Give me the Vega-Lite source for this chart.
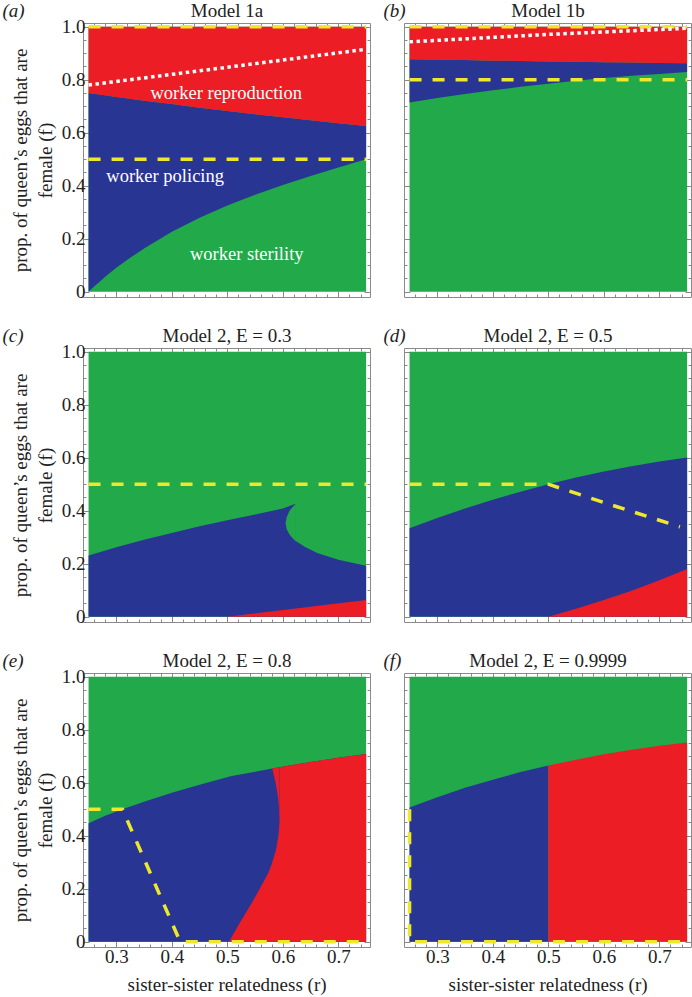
{
  "$schema": "https://vega.github.io/schema/vega-lite/v6.json",
  "padding": {"left": 1, "top": 0, "right": 2, "bottom": 0},
  "background": "white",
  "datasets": {
    "reg": [
      {"p":"a","k":"g","r":0.25,"f":0,"f2":1},{"p":"a","k":"g","r":0.75,"f":0,"f2":1},
      {"p":"a","k":"b","r":0.25,"f":0,"f2":0.75},{"p":"a","k":"b","r":0.26,"f":0.02,"f2":0.747},{"p":"a","k":"b","r":0.27,"f":0.038,"f2":0.744},{"p":"a","k":"b","r":0.28,"f":0.056,"f2":0.741},{"p":"a","k":"b","r":0.30,"f":0.09,"f2":0.735},{"p":"a","k":"b","r":0.325,"f":0.128,"f2":0.728},{"p":"a","k":"b","r":0.35,"f":0.163,"f2":0.721},{"p":"a","k":"b","r":0.40,"f":0.226,"f2":0.708},{"p":"a","k":"b","r":0.45,"f":0.279,"f2":0.694},{"p":"a","k":"b","r":0.50,"f":0.325,"f2":0.682},{"p":"a","k":"b","r":0.55,"f":0.366,"f2":0.67},{"p":"a","k":"b","r":0.60,"f":0.403,"f2":0.658},{"p":"a","k":"b","r":0.65,"f":0.437,"f2":0.647},{"p":"a","k":"b","r":0.70,"f":0.469,"f2":0.636},{"p":"a","k":"b","r":0.75,"f":0.5,"f2":0.625},
      {"p":"a","k":"r","r":0.25,"f":0.75,"f2":1},{"p":"a","k":"r","r":0.30,"f":0.735,"f2":1},{"p":"a","k":"r","r":0.35,"f":0.721,"f2":1},{"p":"a","k":"r","r":0.40,"f":0.708,"f2":1},{"p":"a","k":"r","r":0.45,"f":0.694,"f2":1},{"p":"a","k":"r","r":0.50,"f":0.682,"f2":1},{"p":"a","k":"r","r":0.55,"f":0.67,"f2":1},{"p":"a","k":"r","r":0.60,"f":0.658,"f2":1},{"p":"a","k":"r","r":0.65,"f":0.647,"f2":1},{"p":"a","k":"r","r":0.70,"f":0.636,"f2":1},{"p":"a","k":"r","r":0.75,"f":0.625,"f2":1},
      {"p":"b","k":"g","r":0.25,"f":0,"f2":1},{"p":"b","k":"g","r":0.75,"f":0,"f2":1},
      {"p":"b","k":"b","r":0.25,"f":0.714,"f2":0.877},{"p":"b","k":"b","r":0.30,"f":0.731,"f2":0.875},{"p":"b","k":"b","r":0.35,"f":0.746,"f2":0.874},{"p":"b","k":"b","r":0.40,"f":0.76,"f2":0.872},{"p":"b","k":"b","r":0.45,"f":0.773,"f2":0.871},{"p":"b","k":"b","r":0.50,"f":0.785,"f2":0.869},{"p":"b","k":"b","r":0.55,"f":0.796,"f2":0.868},{"p":"b","k":"b","r":0.60,"f":0.806,"f2":0.866},{"p":"b","k":"b","r":0.65,"f":0.815,"f2":0.865},{"p":"b","k":"b","r":0.70,"f":0.822,"f2":0.863},{"p":"b","k":"b","r":0.75,"f":0.829,"f2":0.862},
      {"p":"b","k":"r","r":0.25,"f":0.877,"f2":1},{"p":"b","k":"r","r":0.30,"f":0.875,"f2":1},{"p":"b","k":"r","r":0.35,"f":0.874,"f2":1},{"p":"b","k":"r","r":0.40,"f":0.872,"f2":1},{"p":"b","k":"r","r":0.45,"f":0.871,"f2":1},{"p":"b","k":"r","r":0.50,"f":0.869,"f2":1},{"p":"b","k":"r","r":0.55,"f":0.868,"f2":1},{"p":"b","k":"r","r":0.60,"f":0.866,"f2":1},{"p":"b","k":"r","r":0.65,"f":0.865,"f2":1},{"p":"b","k":"r","r":0.70,"f":0.863,"f2":1},{"p":"b","k":"r","r":0.75,"f":0.862,"f2":1},
      {"p":"c","k":"g","r":0.25,"f":0,"f2":1},{"p":"c","k":"g","r":0.75,"f":0,"f2":1},
      {"p":"c","k":"b","r":0.25,"f":0,"f2":0.231},{"p":"c","k":"b","r":0.30,"f":0,"f2":0.262},{"p":"c","k":"b","r":0.35,"f":0,"f2":0.29},{"p":"c","k":"b","r":0.40,"f":0,"f2":0.316},{"p":"c","k":"b","r":0.45,"f":0,"f2":0.341},{"p":"c","k":"b","r":0.50,"f":0,"f2":0.364},{"p":"c","k":"b","r":0.55,"f":0,"f2":0.386},{"p":"c","k":"b","r":0.60,"f":0,"f2":0.408},{"p":"c","k":"b","r":0.623,"f":0,"f2":0.426},{"p":"c","k":"b","r":0.6232,"f":0,"f2":0.286},{"p":"c","k":"b","r":0.64,"f":0,"f2":0.263},{"p":"c","k":"b","r":0.662,"f":0,"f2":0.24},{"p":"c","k":"b","r":0.70,"f":0,"f2":0.215},{"p":"c","k":"b","r":0.75,"f":0,"f2":0.192},
      {"p":"c","k":"g2","r":0.605,"f":0.353,"f2":0.353},{"p":"c","k":"g2","r":0.607,"f":0.33,"f2":0.375},{"p":"c","k":"g2","r":0.612,"f":0.31,"f2":0.40},{"p":"c","k":"g2","r":0.618,"f":0.295,"f2":0.415},{"p":"c","k":"g2","r":0.6236,"f":0.284,"f2":0.427},
      {"p":"c","k":"r","r":0.5,"f":0,"f2":0},{"p":"c","k":"r","r":0.75,"f":0,"f2":0.063},
      {"p":"d","k":"g","r":0.25,"f":0,"f2":1},{"p":"d","k":"g","r":0.75,"f":0,"f2":1},
      {"p":"d","k":"b","r":0.25,"f":0,"f2":0.334},{"p":"d","k":"b","r":0.30,"f":0,"f2":0.372},{"p":"d","k":"b","r":0.35,"f":0,"f2":0.408},{"p":"d","k":"b","r":0.40,"f":0,"f2":0.441},{"p":"d","k":"b","r":0.45,"f":0,"f2":0.472},{"p":"d","k":"b","r":0.50,"f":0,"f2":0.5},{"p":"d","k":"b","r":0.55,"f":0,"f2":0.525},{"p":"d","k":"b","r":0.60,"f":0,"f2":0.548},{"p":"d","k":"b","r":0.65,"f":0,"f2":0.568},{"p":"d","k":"b","r":0.70,"f":0,"f2":0.586},{"p":"d","k":"b","r":0.75,"f":0,"f2":0.601},
      {"p":"d","k":"r","r":0.5,"f":0,"f2":0},{"p":"d","k":"r","r":0.55,"f":0,"f2":0.03},{"p":"d","k":"r","r":0.6,"f":0,"f2":0.063},{"p":"d","k":"r","r":0.65,"f":0,"f2":0.098},{"p":"d","k":"r","r":0.7,"f":0,"f2":0.138},{"p":"d","k":"r","r":0.75,"f":0,"f2":0.18},
      {"p":"e","k":"g","r":0.25,"f":0,"f2":1},{"p":"e","k":"g","r":0.75,"f":0,"f2":1},
      {"p":"e","k":"b","r":0.25,"f":0,"f2":0.447},{"p":"e","k":"b","r":0.28,"f":0,"f2":0.475},{"p":"e","k":"b","r":0.311,"f":0,"f2":0.5},{"p":"e","k":"b","r":0.35,"f":0,"f2":0.528},{"p":"e","k":"b","r":0.40,"f":0,"f2":0.562},{"p":"e","k":"b","r":0.45,"f":0,"f2":0.592},{"p":"e","k":"b","r":0.506,"f":0,"f2":0.624},{"p":"e","k":"b","r":0.55,"f":0,"f2":0.641},{"p":"e","k":"b","r":0.581,"f":0,"f2":0.654},{"p":"e","k":"b","r":0.62,"f":0,"f2":0.668},{"p":"e","k":"b","r":0.65,"f":0,"f2":0.678},{"p":"e","k":"b","r":0.70,"f":0,"f2":0.694},{"p":"e","k":"b","r":0.75,"f":0,"f2":0.708},
      {"p":"e","k":"r","r":0.503,"f":0,"f2":0},{"p":"e","k":"r","r":0.522,"f":0,"f2":0.07},{"p":"e","k":"r","r":0.548,"f":0,"f2":0.16},{"p":"e","k":"r","r":0.574,"f":0,"f2":0.26},{"p":"e","k":"r","r":0.581,"f":0,"f2":0.30},{"p":"e","k":"r","r":0.588,"f":0,"f2":0.35},{"p":"e","k":"r","r":0.592,"f":0,"f2":0.40},{"p":"e","k":"r","r":0.594,"f":0,"f2":0.45},{"p":"e","k":"r","r":0.5942,"f":0,"f2":0.658},{"p":"e","k":"r","r":0.62,"f":0,"f2":0.668},{"p":"e","k":"r","r":0.65,"f":0,"f2":0.678},{"p":"e","k":"r","r":0.70,"f":0,"f2":0.694},{"p":"e","k":"r","r":0.75,"f":0,"f2":0.708},
      {"p":"e","k":"r2","r":0.581,"f":0.654,"f2":0.654},{"p":"e","k":"r2","r":0.587,"f":0.6,"f2":0.656},{"p":"e","k":"r2","r":0.591,"f":0.55,"f2":0.657},{"p":"e","k":"r2","r":0.5932,"f":0.5,"f2":0.658},{"p":"e","k":"r2","r":0.594,"f":0.45,"f2":0.658},
      {"p":"f","k":"g","r":0.25,"f":0,"f2":1},{"p":"f","k":"g","r":0.75,"f":0,"f2":1},
      {"p":"f","k":"b","r":0.25,"f":0,"f2":0.506},{"p":"f","k":"b","r":0.30,"f":0,"f2":0.545},{"p":"f","k":"b","r":0.35,"f":0,"f2":0.581},{"p":"f","k":"b","r":0.40,"f":0,"f2":0.611},{"p":"f","k":"b","r":0.45,"f":0,"f2":0.64},{"p":"f","k":"b","r":0.50,"f":0,"f2":0.665},
      {"p":"f","k":"r","r":0.50,"f":0,"f2":0.665},{"p":"f","k":"r","r":0.55,"f":0,"f2":0.687},{"p":"f","k":"r","r":0.60,"f":0,"f2":0.707},{"p":"f","k":"r","r":0.65,"f":0,"f2":0.7245},{"p":"f","k":"r","r":0.70,"f":0,"f2":0.7395},{"p":"f","k":"r","r":0.75,"f":0,"f2":0.752}
    ],
    "lin": [
      {"p":"a","k":"a1","s":"y","i":0,"r":0.25,"f":0.5},{"p":"a","k":"a1","s":"y","i":1,"r":0.75,"f":0.5},
      {"p":"a","k":"a2","s":"y","i":0,"r":0.25,"f":1},{"p":"a","k":"a2","s":"y","i":1,"r":0.75,"f":1},
      {"p":"a","k":"a3","s":"w","i":0,"r":0.25,"f":0.78},{"p":"a","k":"a3","s":"w","i":1,"r":0.5,"f":0.847},{"p":"a","k":"a3","s":"w","i":2,"r":0.75,"f":0.915},
      {"p":"b","k":"b1","s":"y","i":0,"r":0.25,"f":0.8},{"p":"b","k":"b1","s":"y","i":1,"r":0.75,"f":0.8},
      {"p":"b","k":"b2","s":"y","i":0,"r":0.25,"f":1},{"p":"b","k":"b2","s":"y","i":1,"r":0.75,"f":1},
      {"p":"b","k":"b3","s":"w","i":0,"r":0.25,"f":0.943},{"p":"b","k":"b3","s":"w","i":1,"r":0.5,"f":0.971},{"p":"b","k":"b3","s":"w","i":2,"r":0.75,"f":0.994},
      {"p":"c","k":"c1","s":"y","i":0,"r":0.25,"f":0.5},{"p":"c","k":"c1","s":"y","i":1,"r":0.75,"f":0.5},
      {"p":"d","k":"d1","s":"y","i":0,"r":0.25,"f":0.5},{"p":"d","k":"d1","s":"y","i":1,"r":0.5,"f":0.5},{"p":"d","k":"d1","s":"y","i":2,"r":0.61,"f":0.424},{"p":"d","k":"d1","s":"y","i":3,"r":0.737,"f":0.339},
      {"p":"e","k":"e1","s":"y","i":0,"r":0.25,"f":0.5},{"p":"e","k":"e1","s":"y","i":1,"r":0.311,"f":0.5},{"p":"e","k":"e1","s":"y","i":2,"r":0.415,"f":0},{"p":"e","k":"e1","s":"y","i":3,"r":0.75,"f":0},
      {"p":"f","k":"f1","s":"y","i":0,"r":0.25,"f":0.5},{"p":"f","k":"f1","s":"y","i":1,"r":0.25,"f":0},{"p":"f","k":"f1","s":"y","i":2,"r":0.75,"f":0}
    ],
    "lab": [
      {"p":"a","t":"worker reproduction","r":0.498,"f":0.729},
      {"p":"a","t":"worker policing","r":0.388,"f":0.414},
      {"p":"a","t":"worker sterility","r":0.535,"f":0.12}
    ]
  },
  "config": {
    "view": {"stroke": "#8a8a8a", "strokeWidth": 1},
    "font": "Liberation Serif",
    "axis": {"domain": false, "grid": false, "labelFont": "Liberation Serif", "labelFontSize": 19, "labelColor": "#222", "titleFont": "Liberation Serif", "titleFontSize": 19, "titleFontWeight": "normal", "titleColor": "#222", "tickColor": "#888", "tickWidth": 1, "labelOverlap": false, "labelFlush": false, "minExtent": 0},
    "title": {"font": "Liberation Serif", "fontSize": 19, "fontWeight": "normal", "color": "#222"}
  },
  "bounds": "flush",
  "columns": 2,
  "spacing": {"row": 51, "column": 34},
  "concat": [
      {
        "width": 287, "height": 274,
        "resolve": {"axis": {"x": "independent", "y": "independent"}},
        "encoding": {"x": {"field": "r", "type": "quantitative", "scale": {"domain": [0.24, 0.757], "nice": false, "zero": false}, "axis": null}, "y": {"field": "f", "type": "quantitative", "scale": {"domain": [-0.02, 1.014], "nice": false, "zero": false}, "axis": null}},
        "layer": [
          {"data": {"name": "reg"}, "transform": [{"filter": "datum.p=='a' && datum.k=='g'"}], "mark": {"type": "area", "color": "#21A94A"},
           "encoding": {"x": {"field": "r", "type": "quantitative", "scale": {"domain": [0.24, 0.757], "nice": false, "zero": false}, "axis": {"orient": "bottom", "values": [0.3,0.4,0.5,0.6,0.7], "tickSize": -6, "labels": false, "title": null, "maxExtent": 0}},
                        "y": {"field": "f", "type": "quantitative", "scale": {"domain": [-0.02, 1.014], "nice": false, "zero": false}, "axis": {"orient": "left", "values": [0,0.2,0.4,0.6,0.8,1], "tickSize": -6, "labelExpr": "datum.value==0 ? '0' : format(datum.value,'.1f')", "labelPadding": 4, "title": ["prop. of queen’s eggs that are", "female (f)"], "titlePadding": 6, "titleLineHeight": 25}},
                        "y2": {"field": "f2"}}},
          {"data": {"name": "reg"}, "transform": [{"filter": "datum.p=='a' && datum.k=='b'"}], "mark": {"type": "area", "color": "#293593"},
           "encoding": {"x": {"field": "r", "type": "quantitative", "scale": {"domain": [0.24, 0.757], "nice": false, "zero": false}, "axis": {"orient": "top", "values": [0.3,0.4,0.5,0.6,0.7], "tickSize": -6, "labels": false, "maxExtent": 0, "title": "Model 1a", "titleX": 143.5, "titleY": -7, "titleAlign": "center", "titleBaseline": "alphabetic", "titleAngle": 0}},
                        "y": {"field": "f", "type": "quantitative", "scale": {"domain": [-0.02, 1.014], "nice": false, "zero": false}, "axis": {"orient": "right", "values": [0,0.2,0.4,0.6,0.8,1], "tickSize": -6, "labels": false, "title": null, "maxExtent": 0}},
                        "y2": {"field": "f2"}}},
          {"data": {"name": "reg"}, "transform": [{"filter": "datum.p=='a' && substring(datum.k,0,1)=='r'"}], "mark": {"type": "area", "color": "#EC1D25"},
           "encoding": {"x": {"field": "r", "type": "quantitative", "scale": {"domain": [0.24, 0.757], "nice": false, "zero": false}, "axis": {"orient": "bottom", "values": [0.26,0.28,0.32,0.34,0.36,0.38,0.42,0.44,0.46,0.48,0.52,0.54,0.56,0.58,0.62,0.64,0.66,0.68,0.72,0.74], "tickSize": -3, "labels": false, "title": null, "maxExtent": 0}},
                        "y": {"field": "f", "type": "quantitative", "scale": {"domain": [-0.02, 1.014], "nice": false, "zero": false}, "axis": {"orient": "left", "values": [0.05,0.1,0.15,0.25,0.3,0.35,0.45,0.5,0.55,0.65,0.7,0.75,0.85,0.9,0.95], "tickSize": -3, "labels": false, "title": null, "maxExtent": 0}},
                        "y2": {"field": "f2"}, "detail": {"field": "k"}}},
          {"data": {"name": "lin"}, "transform": [{"filter": "datum.p=='a' && datum.s=='y'"}], "mark": {"type": "line", "color": "#EEE82C", "strokeWidth": 3.5, "strokeDash": [12, 11]},
           "encoding": {"x": {"field": "r", "type": "quantitative", "scale": {"domain": [0.24, 0.757], "nice": false, "zero": false}, "axis": {"orient": "top", "values": [0.26,0.28,0.32,0.34,0.36,0.38,0.42,0.44,0.46,0.48,0.52,0.54,0.56,0.58,0.62,0.64,0.66,0.68,0.72,0.74], "tickSize": -3, "labels": false, "maxExtent": 0, "title": "(a)", "titleX": -81, "titleY": -7, "titleAlign": "left", "titleBaseline": "alphabetic", "titleAngle": 0, "titleFontStyle": "italic"}},
                        "y": {"field": "f", "type": "quantitative", "scale": {"domain": [-0.02, 1.014], "nice": false, "zero": false}, "axis": {"orient": "right", "values": [0.05,0.1,0.15,0.25,0.3,0.35,0.45,0.5,0.55,0.65,0.7,0.75,0.85,0.9,0.95], "tickSize": -3, "labels": false, "title": null, "maxExtent": 0}},
                        "detail": {"field": "k"}, "order": {"field": "i"}}},
          {"data": {"name": "lin"}, "transform": [{"filter": "datum.p=='a' && datum.s=='w'"}], "mark": {"type": "line", "color": "#ffffff", "strokeWidth": 3.5, "strokeDash": [3.5, 3.5]}, "encoding": {"detail": {"field": "k"}, "order": {"field": "i"}}},
          {"data": {"name": "lab"}, "transform": [{"filter": "datum.p=='a'"}], "mark": {"type": "text", "color": "#ffffff", "font": "Liberation Serif", "fontSize": 18.5, "align": "center", "baseline": "alphabetic"}, "encoding": {"text": {"field": "t"}}}
        ]},
      {
        "width": 287, "height": 274,
        "resolve": {"axis": {"x": "independent", "y": "independent"}},
        "encoding": {"x": {"field": "r", "type": "quantitative", "scale": {"domain": [0.24, 0.757], "nice": false, "zero": false}, "axis": null}, "y": {"field": "f", "type": "quantitative", "scale": {"domain": [-0.02, 1.014], "nice": false, "zero": false}, "axis": null}},
        "layer": [
          {"data": {"name": "reg"}, "transform": [{"filter": "datum.p=='b' && datum.k=='g'"}], "mark": {"type": "area", "color": "#21A94A"},
           "encoding": {"x": {"field": "r", "type": "quantitative", "scale": {"domain": [0.24, 0.757], "nice": false, "zero": false}, "axis": {"orient": "bottom", "values": [0.3,0.4,0.5,0.6,0.7], "tickSize": -6, "labels": false, "title": null, "maxExtent": 0}},
                        "y": {"field": "f", "type": "quantitative", "scale": {"domain": [-0.02, 1.014], "nice": false, "zero": false}, "axis": {"orient": "left", "values": [0,0.2,0.4,0.6,0.8,1], "tickSize": -6, "labels": false, "title": null, "maxExtent": 0}},
                        "y2": {"field": "f2"}}},
          {"data": {"name": "reg"}, "transform": [{"filter": "datum.p=='b' && datum.k=='b'"}], "mark": {"type": "area", "color": "#293593"},
           "encoding": {"x": {"field": "r", "type": "quantitative", "scale": {"domain": [0.24, 0.757], "nice": false, "zero": false}, "axis": {"orient": "top", "values": [0.3,0.4,0.5,0.6,0.7], "tickSize": -6, "labels": false, "maxExtent": 0, "title": "Model 1b", "titleX": 143.5, "titleY": -7, "titleAlign": "center", "titleBaseline": "alphabetic", "titleAngle": 0}},
                        "y": {"field": "f", "type": "quantitative", "scale": {"domain": [-0.02, 1.014], "nice": false, "zero": false}, "axis": {"orient": "right", "values": [0,0.2,0.4,0.6,0.8,1], "tickSize": -6, "labels": false, "title": null, "maxExtent": 0}},
                        "y2": {"field": "f2"}}},
          {"data": {"name": "reg"}, "transform": [{"filter": "datum.p=='b' && substring(datum.k,0,1)=='r'"}], "mark": {"type": "area", "color": "#EC1D25"},
           "encoding": {"x": {"field": "r", "type": "quantitative", "scale": {"domain": [0.24, 0.757], "nice": false, "zero": false}, "axis": {"orient": "bottom", "values": [0.26,0.28,0.32,0.34,0.36,0.38,0.42,0.44,0.46,0.48,0.52,0.54,0.56,0.58,0.62,0.64,0.66,0.68,0.72,0.74], "tickSize": -3, "labels": false, "title": null, "maxExtent": 0}},
                        "y": {"field": "f", "type": "quantitative", "scale": {"domain": [-0.02, 1.014], "nice": false, "zero": false}, "axis": {"orient": "left", "values": [0.05,0.1,0.15,0.25,0.3,0.35,0.45,0.5,0.55,0.65,0.7,0.75,0.85,0.9,0.95], "tickSize": -3, "labels": false, "title": null, "maxExtent": 0}},
                        "y2": {"field": "f2"}, "detail": {"field": "k"}}},
          {"data": {"name": "lin"}, "transform": [{"filter": "datum.p=='b' && datum.s=='y'"}], "mark": {"type": "line", "color": "#EEE82C", "strokeWidth": 3.5, "strokeDash": [12, 11]},
           "encoding": {"x": {"field": "r", "type": "quantitative", "scale": {"domain": [0.24, 0.757], "nice": false, "zero": false}, "axis": {"orient": "top", "values": [0.26,0.28,0.32,0.34,0.36,0.38,0.42,0.44,0.46,0.48,0.52,0.54,0.56,0.58,0.62,0.64,0.66,0.68,0.72,0.74], "tickSize": -3, "labels": false, "maxExtent": 0, "title": "(b)", "titleX": -21, "titleY": -7, "titleAlign": "left", "titleBaseline": "alphabetic", "titleAngle": 0, "titleFontStyle": "italic"}},
                        "y": {"field": "f", "type": "quantitative", "scale": {"domain": [-0.02, 1.014], "nice": false, "zero": false}, "axis": {"orient": "right", "values": [0.05,0.1,0.15,0.25,0.3,0.35,0.45,0.5,0.55,0.65,0.7,0.75,0.85,0.9,0.95], "tickSize": -3, "labels": false, "title": null, "maxExtent": 0}},
                        "detail": {"field": "k"}, "order": {"field": "i"}}},
          {"data": {"name": "lin"}, "transform": [{"filter": "datum.p=='b' && datum.s=='w'"}], "mark": {"type": "line", "color": "#ffffff", "strokeWidth": 3.5, "strokeDash": [3.5, 3.5]}, "encoding": {"detail": {"field": "k"}, "order": {"field": "i"}}}
        ]},
      {
        "width": 287, "height": 274,
        "resolve": {"axis": {"x": "independent", "y": "independent"}},
        "encoding": {"x": {"field": "r", "type": "quantitative", "scale": {"domain": [0.24, 0.757], "nice": false, "zero": false}, "axis": null}, "y": {"field": "f", "type": "quantitative", "scale": {"domain": [-0.02, 1.014], "nice": false, "zero": false}, "axis": null}},
        "layer": [
          {"data": {"name": "reg"}, "transform": [{"filter": "datum.p=='c' && datum.k=='g'"}], "mark": {"type": "area", "color": "#21A94A"},
           "encoding": {"x": {"field": "r", "type": "quantitative", "scale": {"domain": [0.24, 0.757], "nice": false, "zero": false}, "axis": {"orient": "bottom", "values": [0.3,0.4,0.5,0.6,0.7], "tickSize": -6, "labels": false, "title": null, "maxExtent": 0}},
                        "y": {"field": "f", "type": "quantitative", "scale": {"domain": [-0.02, 1.014], "nice": false, "zero": false}, "axis": {"orient": "left", "values": [0,0.2,0.4,0.6,0.8,1], "tickSize": -6, "labelExpr": "datum.value==0 ? '0' : format(datum.value,'.1f')", "labelPadding": 4, "title": ["prop. of queen’s eggs that are", "female (f)"], "titlePadding": 6, "titleLineHeight": 25}},
                        "y2": {"field": "f2"}}},
          {"data": {"name": "reg"}, "transform": [{"filter": "datum.p=='c' && datum.k=='b'"}], "mark": {"type": "area", "color": "#293593"},
           "encoding": {"x": {"field": "r", "type": "quantitative", "scale": {"domain": [0.24, 0.757], "nice": false, "zero": false}, "axis": {"orient": "top", "values": [0.3,0.4,0.5,0.6,0.7], "tickSize": -6, "labels": false, "maxExtent": 0, "title": "Model 2, E = 0.3", "titleX": 143.5, "titleY": -7, "titleAlign": "center", "titleBaseline": "alphabetic", "titleAngle": 0}},
                        "y": {"field": "f", "type": "quantitative", "scale": {"domain": [-0.02, 1.014], "nice": false, "zero": false}, "axis": {"orient": "right", "values": [0,0.2,0.4,0.6,0.8,1], "tickSize": -6, "labels": false, "title": null, "maxExtent": 0}},
                        "y2": {"field": "f2"}}},
          {"data": {"name": "reg"}, "transform": [{"filter": "datum.p=='c' && datum.k=='g2'"}], "mark": {"type": "area", "color": "#21A94A"}, "encoding": {"y2": {"field": "f2"}}},
          {"data": {"name": "reg"}, "transform": [{"filter": "datum.p=='c' && substring(datum.k,0,1)=='r'"}], "mark": {"type": "area", "color": "#EC1D25"},
           "encoding": {"x": {"field": "r", "type": "quantitative", "scale": {"domain": [0.24, 0.757], "nice": false, "zero": false}, "axis": {"orient": "bottom", "values": [0.26,0.28,0.32,0.34,0.36,0.38,0.42,0.44,0.46,0.48,0.52,0.54,0.56,0.58,0.62,0.64,0.66,0.68,0.72,0.74], "tickSize": -3, "labels": false, "title": null, "maxExtent": 0}},
                        "y": {"field": "f", "type": "quantitative", "scale": {"domain": [-0.02, 1.014], "nice": false, "zero": false}, "axis": {"orient": "left", "values": [0.05,0.1,0.15,0.25,0.3,0.35,0.45,0.5,0.55,0.65,0.7,0.75,0.85,0.9,0.95], "tickSize": -3, "labels": false, "title": null, "maxExtent": 0}},
                        "y2": {"field": "f2"}, "detail": {"field": "k"}}},
          {"data": {"name": "lin"}, "transform": [{"filter": "datum.p=='c' && datum.s=='y'"}], "mark": {"type": "line", "color": "#EEE82C", "strokeWidth": 3.5, "strokeDash": [12, 11]},
           "encoding": {"x": {"field": "r", "type": "quantitative", "scale": {"domain": [0.24, 0.757], "nice": false, "zero": false}, "axis": {"orient": "top", "values": [0.26,0.28,0.32,0.34,0.36,0.38,0.42,0.44,0.46,0.48,0.52,0.54,0.56,0.58,0.62,0.64,0.66,0.68,0.72,0.74], "tickSize": -3, "labels": false, "maxExtent": 0, "title": "(c)", "titleX": -81, "titleY": -7, "titleAlign": "left", "titleBaseline": "alphabetic", "titleAngle": 0, "titleFontStyle": "italic"}},
                        "y": {"field": "f", "type": "quantitative", "scale": {"domain": [-0.02, 1.014], "nice": false, "zero": false}, "axis": {"orient": "right", "values": [0.05,0.1,0.15,0.25,0.3,0.35,0.45,0.5,0.55,0.65,0.7,0.75,0.85,0.9,0.95], "tickSize": -3, "labels": false, "title": null, "maxExtent": 0}},
                        "detail": {"field": "k"}, "order": {"field": "i"}}}
        ]},
      {
        "width": 287, "height": 274,
        "resolve": {"axis": {"x": "independent", "y": "independent"}},
        "encoding": {"x": {"field": "r", "type": "quantitative", "scale": {"domain": [0.24, 0.757], "nice": false, "zero": false}, "axis": null}, "y": {"field": "f", "type": "quantitative", "scale": {"domain": [-0.02, 1.014], "nice": false, "zero": false}, "axis": null}},
        "layer": [
          {"data": {"name": "reg"}, "transform": [{"filter": "datum.p=='d' && datum.k=='g'"}], "mark": {"type": "area", "color": "#21A94A"},
           "encoding": {"x": {"field": "r", "type": "quantitative", "scale": {"domain": [0.24, 0.757], "nice": false, "zero": false}, "axis": {"orient": "bottom", "values": [0.3,0.4,0.5,0.6,0.7], "tickSize": -6, "labels": false, "title": null, "maxExtent": 0}},
                        "y": {"field": "f", "type": "quantitative", "scale": {"domain": [-0.02, 1.014], "nice": false, "zero": false}, "axis": {"orient": "left", "values": [0,0.2,0.4,0.6,0.8,1], "tickSize": -6, "labels": false, "title": null, "maxExtent": 0}},
                        "y2": {"field": "f2"}}},
          {"data": {"name": "reg"}, "transform": [{"filter": "datum.p=='d' && datum.k=='b'"}], "mark": {"type": "area", "color": "#293593"},
           "encoding": {"x": {"field": "r", "type": "quantitative", "scale": {"domain": [0.24, 0.757], "nice": false, "zero": false}, "axis": {"orient": "top", "values": [0.3,0.4,0.5,0.6,0.7], "tickSize": -6, "labels": false, "maxExtent": 0, "title": "Model 2, E = 0.5", "titleX": 143.5, "titleY": -7, "titleAlign": "center", "titleBaseline": "alphabetic", "titleAngle": 0}},
                        "y": {"field": "f", "type": "quantitative", "scale": {"domain": [-0.02, 1.014], "nice": false, "zero": false}, "axis": {"orient": "right", "values": [0,0.2,0.4,0.6,0.8,1], "tickSize": -6, "labels": false, "title": null, "maxExtent": 0}},
                        "y2": {"field": "f2"}}},
          {"data": {"name": "reg"}, "transform": [{"filter": "datum.p=='d' && substring(datum.k,0,1)=='r'"}], "mark": {"type": "area", "color": "#EC1D25"},
           "encoding": {"x": {"field": "r", "type": "quantitative", "scale": {"domain": [0.24, 0.757], "nice": false, "zero": false}, "axis": {"orient": "bottom", "values": [0.26,0.28,0.32,0.34,0.36,0.38,0.42,0.44,0.46,0.48,0.52,0.54,0.56,0.58,0.62,0.64,0.66,0.68,0.72,0.74], "tickSize": -3, "labels": false, "title": null, "maxExtent": 0}},
                        "y": {"field": "f", "type": "quantitative", "scale": {"domain": [-0.02, 1.014], "nice": false, "zero": false}, "axis": {"orient": "left", "values": [0.05,0.1,0.15,0.25,0.3,0.35,0.45,0.5,0.55,0.65,0.7,0.75,0.85,0.9,0.95], "tickSize": -3, "labels": false, "title": null, "maxExtent": 0}},
                        "y2": {"field": "f2"}, "detail": {"field": "k"}}},
          {"data": {"name": "lin"}, "transform": [{"filter": "datum.p=='d' && datum.s=='y'"}], "mark": {"type": "line", "color": "#EEE82C", "strokeWidth": 3.5, "strokeDash": [12, 11]},
           "encoding": {"x": {"field": "r", "type": "quantitative", "scale": {"domain": [0.24, 0.757], "nice": false, "zero": false}, "axis": {"orient": "top", "values": [0.26,0.28,0.32,0.34,0.36,0.38,0.42,0.44,0.46,0.48,0.52,0.54,0.56,0.58,0.62,0.64,0.66,0.68,0.72,0.74], "tickSize": -3, "labels": false, "maxExtent": 0, "title": "(d)", "titleX": -21, "titleY": -7, "titleAlign": "left", "titleBaseline": "alphabetic", "titleAngle": 0, "titleFontStyle": "italic"}},
                        "y": {"field": "f", "type": "quantitative", "scale": {"domain": [-0.02, 1.014], "nice": false, "zero": false}, "axis": {"orient": "right", "values": [0.05,0.1,0.15,0.25,0.3,0.35,0.45,0.5,0.55,0.65,0.7,0.75,0.85,0.9,0.95], "tickSize": -3, "labels": false, "title": null, "maxExtent": 0}},
                        "detail": {"field": "k"}, "order": {"field": "i"}}}
        ]},
      {
        "width": 287, "height": 274,
        "resolve": {"axis": {"x": "independent", "y": "independent"}},
        "encoding": {"x": {"field": "r", "type": "quantitative", "scale": {"domain": [0.24, 0.757], "nice": false, "zero": false}, "axis": null}, "y": {"field": "f", "type": "quantitative", "scale": {"domain": [-0.02, 1.014], "nice": false, "zero": false}, "axis": null}},
        "layer": [
          {"data": {"name": "reg"}, "transform": [{"filter": "datum.p=='e' && datum.k=='g'"}], "mark": {"type": "area", "color": "#21A94A"},
           "encoding": {"x": {"field": "r", "type": "quantitative", "scale": {"domain": [0.24, 0.757], "nice": false, "zero": false}, "axis": {"orient": "bottom", "values": [0.3,0.4,0.5,0.6,0.7], "tickSize": -6, "format": ".1f", "labelPadding": 6, "title": "sister-sister relatedness (r)", "titlePadding": 9}},
                        "y": {"field": "f", "type": "quantitative", "scale": {"domain": [-0.02, 1.014], "nice": false, "zero": false}, "axis": {"orient": "left", "values": [0,0.2,0.4,0.6,0.8,1], "tickSize": -6, "labelExpr": "datum.value==0 ? '0' : format(datum.value,'.1f')", "labelPadding": 4, "title": ["prop. of queen’s eggs that are", "female (f)"], "titlePadding": 6, "titleLineHeight": 25}},
                        "y2": {"field": "f2"}}},
          {"data": {"name": "reg"}, "transform": [{"filter": "datum.p=='e' && datum.k=='b'"}], "mark": {"type": "area", "color": "#293593"},
           "encoding": {"x": {"field": "r", "type": "quantitative", "scale": {"domain": [0.24, 0.757], "nice": false, "zero": false}, "axis": {"orient": "top", "values": [0.3,0.4,0.5,0.6,0.7], "tickSize": -6, "labels": false, "maxExtent": 0, "title": "Model 2, E = 0.8", "titleX": 143.5, "titleY": -7, "titleAlign": "center", "titleBaseline": "alphabetic", "titleAngle": 0}},
                        "y": {"field": "f", "type": "quantitative", "scale": {"domain": [-0.02, 1.014], "nice": false, "zero": false}, "axis": {"orient": "right", "values": [0,0.2,0.4,0.6,0.8,1], "tickSize": -6, "labels": false, "title": null, "maxExtent": 0}},
                        "y2": {"field": "f2"}}},
          {"data": {"name": "reg"}, "transform": [{"filter": "datum.p=='e' && substring(datum.k,0,1)=='r'"}], "mark": {"type": "area", "color": "#EC1D25"},
           "encoding": {"x": {"field": "r", "type": "quantitative", "scale": {"domain": [0.24, 0.757], "nice": false, "zero": false}, "axis": {"orient": "bottom", "values": [0.26,0.28,0.32,0.34,0.36,0.38,0.42,0.44,0.46,0.48,0.52,0.54,0.56,0.58,0.62,0.64,0.66,0.68,0.72,0.74], "tickSize": -3, "labels": false, "title": null, "maxExtent": 0}},
                        "y": {"field": "f", "type": "quantitative", "scale": {"domain": [-0.02, 1.014], "nice": false, "zero": false}, "axis": {"orient": "left", "values": [0.05,0.1,0.15,0.25,0.3,0.35,0.45,0.5,0.55,0.65,0.7,0.75,0.85,0.9,0.95], "tickSize": -3, "labels": false, "title": null, "maxExtent": 0}},
                        "y2": {"field": "f2"}, "detail": {"field": "k"}}},
          {"data": {"name": "lin"}, "transform": [{"filter": "datum.p=='e' && datum.s=='y'"}], "mark": {"type": "line", "color": "#EEE82C", "strokeWidth": 3.5, "strokeDash": [12, 11]},
           "encoding": {"x": {"field": "r", "type": "quantitative", "scale": {"domain": [0.24, 0.757], "nice": false, "zero": false}, "axis": {"orient": "top", "values": [0.26,0.28,0.32,0.34,0.36,0.38,0.42,0.44,0.46,0.48,0.52,0.54,0.56,0.58,0.62,0.64,0.66,0.68,0.72,0.74], "tickSize": -3, "labels": false, "maxExtent": 0, "title": "(e)", "titleX": -81, "titleY": -7, "titleAlign": "left", "titleBaseline": "alphabetic", "titleAngle": 0, "titleFontStyle": "italic"}},
                        "y": {"field": "f", "type": "quantitative", "scale": {"domain": [-0.02, 1.014], "nice": false, "zero": false}, "axis": {"orient": "right", "values": [0.05,0.1,0.15,0.25,0.3,0.35,0.45,0.5,0.55,0.65,0.7,0.75,0.85,0.9,0.95], "tickSize": -3, "labels": false, "title": null, "maxExtent": 0}},
                        "detail": {"field": "k"}, "order": {"field": "i"}}}
        ]},
      {
        "width": 287, "height": 274,
        "resolve": {"axis": {"x": "independent", "y": "independent"}},
        "encoding": {"x": {"field": "r", "type": "quantitative", "scale": {"domain": [0.24, 0.757], "nice": false, "zero": false}, "axis": null}, "y": {"field": "f", "type": "quantitative", "scale": {"domain": [-0.02, 1.014], "nice": false, "zero": false}, "axis": null}},
        "layer": [
          {"data": {"name": "reg"}, "transform": [{"filter": "datum.p=='f' && datum.k=='g'"}], "mark": {"type": "area", "color": "#21A94A"},
           "encoding": {"x": {"field": "r", "type": "quantitative", "scale": {"domain": [0.24, 0.757], "nice": false, "zero": false}, "axis": {"orient": "bottom", "values": [0.3,0.4,0.5,0.6,0.7], "tickSize": -6, "format": ".1f", "labelPadding": 6, "title": "sister-sister relatedness (r)", "titlePadding": 9}},
                        "y": {"field": "f", "type": "quantitative", "scale": {"domain": [-0.02, 1.014], "nice": false, "zero": false}, "axis": {"orient": "left", "values": [0,0.2,0.4,0.6,0.8,1], "tickSize": -6, "labels": false, "title": null, "maxExtent": 0}},
                        "y2": {"field": "f2"}}},
          {"data": {"name": "reg"}, "transform": [{"filter": "datum.p=='f' && datum.k=='b'"}], "mark": {"type": "area", "color": "#293593"},
           "encoding": {"x": {"field": "r", "type": "quantitative", "scale": {"domain": [0.24, 0.757], "nice": false, "zero": false}, "axis": {"orient": "top", "values": [0.3,0.4,0.5,0.6,0.7], "tickSize": -6, "labels": false, "maxExtent": 0, "title": "Model 2, E = 0.9999", "titleX": 143.5, "titleY": -7, "titleAlign": "center", "titleBaseline": "alphabetic", "titleAngle": 0}},
                        "y": {"field": "f", "type": "quantitative", "scale": {"domain": [-0.02, 1.014], "nice": false, "zero": false}, "axis": {"orient": "right", "values": [0,0.2,0.4,0.6,0.8,1], "tickSize": -6, "labels": false, "title": null, "maxExtent": 0}},
                        "y2": {"field": "f2"}}},
          {"data": {"name": "reg"}, "transform": [{"filter": "datum.p=='f' && substring(datum.k,0,1)=='r'"}], "mark": {"type": "area", "color": "#EC1D25"},
           "encoding": {"x": {"field": "r", "type": "quantitative", "scale": {"domain": [0.24, 0.757], "nice": false, "zero": false}, "axis": {"orient": "bottom", "values": [0.26,0.28,0.32,0.34,0.36,0.38,0.42,0.44,0.46,0.48,0.52,0.54,0.56,0.58,0.62,0.64,0.66,0.68,0.72,0.74], "tickSize": -3, "labels": false, "title": null, "maxExtent": 0}},
                        "y": {"field": "f", "type": "quantitative", "scale": {"domain": [-0.02, 1.014], "nice": false, "zero": false}, "axis": {"orient": "left", "values": [0.05,0.1,0.15,0.25,0.3,0.35,0.45,0.5,0.55,0.65,0.7,0.75,0.85,0.9,0.95], "tickSize": -3, "labels": false, "title": null, "maxExtent": 0}},
                        "y2": {"field": "f2"}, "detail": {"field": "k"}}},
          {"data": {"name": "lin"}, "transform": [{"filter": "datum.p=='f' && datum.s=='y'"}], "mark": {"type": "line", "color": "#EEE82C", "strokeWidth": 3.5, "strokeDash": [12, 11]},
           "encoding": {"x": {"field": "r", "type": "quantitative", "scale": {"domain": [0.24, 0.757], "nice": false, "zero": false}, "axis": {"orient": "top", "values": [0.26,0.28,0.32,0.34,0.36,0.38,0.42,0.44,0.46,0.48,0.52,0.54,0.56,0.58,0.62,0.64,0.66,0.68,0.72,0.74], "tickSize": -3, "labels": false, "maxExtent": 0, "title": "(f)", "titleX": -21, "titleY": -7, "titleAlign": "left", "titleBaseline": "alphabetic", "titleAngle": 0, "titleFontStyle": "italic"}},
                        "y": {"field": "f", "type": "quantitative", "scale": {"domain": [-0.02, 1.014], "nice": false, "zero": false}, "axis": {"orient": "right", "values": [0.05,0.1,0.15,0.25,0.3,0.35,0.45,0.5,0.55,0.65,0.7,0.75,0.85,0.9,0.95], "tickSize": -3, "labels": false, "title": null, "maxExtent": 0}},
                        "detail": {"field": "k"}, "order": {"field": "i"}}}
        ]}
  ]
}
